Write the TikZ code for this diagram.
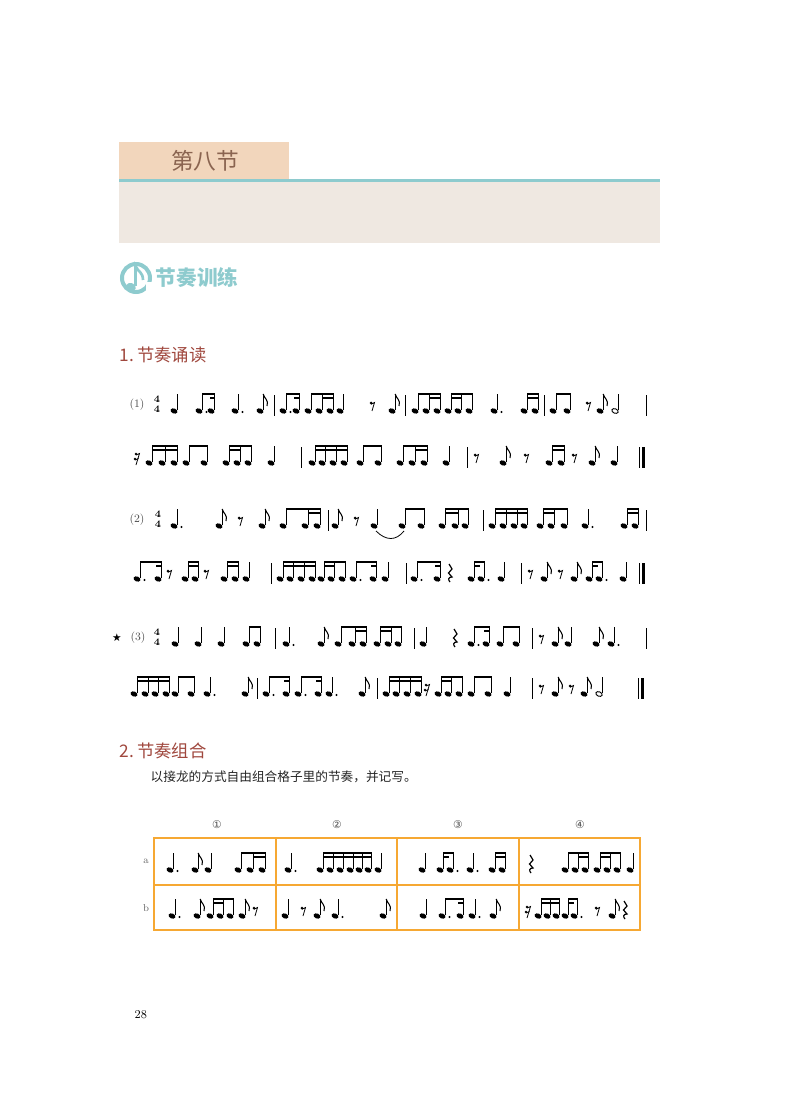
\documentclass[tikz,border=0pt]{standalone}
\usepackage{fontspec}
\newfontfamily\cjk{Noto Sans CJK SC}
\newfontfamily\djv{DejaVu Sans}
\definecolor{peach}{HTML}{F2D6BC}
\definecolor{teal1}{HTML}{8ECBCE}
\definecolor{graybg}{HTML}{EFE8E1}
\definecolor{brownt}{HTML}{8A6450}
\definecolor{headred}{HTML}{A0483E}
\definecolor{orng}{HTML}{F6A833}
\tikzset{stem/.style={line width=0.6pt}}
\def\Y{0}
\newcommand\Rzq[2]{\fill[rotate around={-22:(#1,\Y)}] (#1,\Y) ellipse (3.6 and 2.5); \draw[stem] (#1+3.2,\Y-1)--(#1+3.2,\Y-17);}
\newcommand\Rzf[2]{\Rzq{#1}{#2}\draw[line width=0.8pt] (#1+3.2,\Y-17) .. controls (#1+4.5,\Y-12) and (#1+9,\Y-11) .. (#1+7,\Y-5);}
\newcommand\Rzh[2]{\draw[line width=0.7pt,rotate around={-22:(#1,\Y)}] (#1,\Y) ellipse (3.3 and 2.2); \draw[stem] (#1+3.2,\Y-1)--(#1+3.2,\Y-17);}
\newcommand\Rzd[2]{\fill (#1+7.5,\Y+1) circle (1.1);}
\newcommand\RzB[2]{\fill (#1+2.8,\Y-18) rectangle (#2+3.6,\Y-15.6);}
\newcommand\RzC[2]{\fill (#1+2.8,\Y-14.2) rectangle (#2+3.6,\Y-11.8);}
\newcommand\Rzr[2]{\fill (#1-1,\Y-8) circle (1.5); \draw[stem] (#1-1,\Y-6.8) -- (#1+2.5,\Y-8.5) -- (#1,\Y);}
\newcommand\Rzs[2]{\fill (#1-1,\Y-9) circle (1.4); \fill (#1-2,\Y-4) circle (1.4); \draw[stem] (#1-1,\Y-8) -- (#1+2.5,\Y-9.5) -- (#1-1,\Y+2); \draw[stem] (#1-2,\Y-3) -- (#1+1.5,\Y-4.5);}
\newcommand\Rzz[2]{\draw[line width=0.9pt] (#1,\Y-15)--(#1+3,\Y-10)--(#1-0.5,\Y-6)--(#1+3,\Y-2) .. controls (#1-1,\Y-2) and (#1-1,\Y+1) .. (#1+1,\Y+3);}
\newcommand\Rzl[2]{\draw[stem] (#1,\Y-16)--(#1,\Y+5);}
\newcommand\RzL[2]{\draw[stem] (#1-3,\Y-16)--(#1-3,\Y+5); \fill (#1,\Y-16) rectangle (#1+2.5,\Y+5);}
\newcommand\Rzt[2]{\node[font=\bfseries\fontsize{7.5}{7.5}\selectfont,inner sep=0] at (#1,\Y-12) {4}; \node[font=\bfseries\fontsize{7.5}{7.5}\selectfont,inner sep=0] at (#1,\Y-2) {4};}
\newcommand\Music[1]{\foreach \t/\a/\b in {#1} {\csname Rz\t\endcsname{\a}{\b}}}
\begin{document}
\begin{tikzpicture}[x=0.75pt,y=-0.75pt]
\useasboundingbox (0,0) rectangle (800,1094);
\fill[white] (0,0) rectangle (800,1094);
% header
\fill[graybg] (119,182) rectangle (660,243);
\fill[peach] (119,142) rectangle (289,180);
\node[text=brownt,font=\cjk\fontsize{17}{17}\selectfont] (title) at (205,161) {第八节};
\fill[teal1] (119,179) rectangle (660,182);
\draw[teal1,line width=3pt] (136,278) circle (14);
\fill[white] (146,282) rectangle (154,296);
\fill[teal1,rotate around={-22:(131,287)}] (131,287) ellipse (5 and 4);
\draw[teal1,line width=2pt] (135.5,286)--(135.5,266) .. controls (138,272) and (143,272) .. (143,280);
\node[anchor=west,text=teal1,font=\cjk\bfseries\fontsize{15.5}{15.5}\selectfont] (sec) at (151,278) {节奏训练};
\node[anchor=west,text=headred,font=\cjk\fontsize{13}{13}\selectfont] (h1) at (115,355) {1.\,节奏诵读};
\node[anchor=west,text=headred,font=\cjk\fontsize{13}{13}\selectfont] (h2) at (115,751) {2.\,节奏组合};
\node[anchor=west,font=\cjk\fontsize{9.5}{10}\selectfont,text=black!85] (inst) at (146,777) {以接龙的方式自由组合格子里的节奏，并记写。};
\node[anchor=west,font=\fontsize{9}{9}\selectfont] (pg) at (130,1015) {28};
% row 1
\def\Y{411}
\node[font=\fontsize{8.5}{9}\selectfont,text=black!70] (l1) at (137,\Y-6) {(1)};
\Music{t/157/0, q/174/0, q/199/0, d/199/0, q/211/0, B/199/211, C/207/211, q/235/0, d/235/0, f/260/0, l/274/0,
 q/283/0, d/283/0, q/296/0, B/283/296, C/291/296, q/308/0, q/319/0, q/330/0, B/308/330, C/319/330, q/340/0, r/372/0, f/392/0, l/405/0,
 q/415/0, q/426/0, q/437/0, B/415/437, C/426/437, q/448/0, q/458/0, q/469/0, B/448/469, C/448/458, q/494/0, d/494/0,
 q/524/0, q/535/0, B/524/535, C/524/535, l/544/0, q/553/0, q/567/0, B/553/567, r/588/0, f/600/0, h/615/0, l/646/0}
\def\Y{463}
\Music{s/137/0, q/149/0, q/162/0, q/174/0, B/149/174, C/149/174, q/186/0, q/204/0, B/186/204,
 q/226/0, q/237/0, q/248/0, B/226/248, C/226/237, q/271/0, l/301/0,
 q/312/0, q/322/0, q/333/0, q/344/0, B/312/344, C/312/344, q/360/0, q/378/0, B/360/378,
 q/400/0, q/412/0, q/424/0, B/400/424, C/412/424, q/446/0, l/467/0, r/476/0, f/503/0, r/526/0,
 q/549/0, q/561/0, B/549/561, C/549/561, r/574/0, f/592/0, q/614/0, L/642/0}
% row 2
\def\Y{526}
\node[font=\fontsize{8.5}{9}\selectfont,text=black!70] (l2) at (137,\Y-6) {(2)};
\Music{t/158/0, q/174/0, d/174/0, f/219/0, r/240/0, f/262/0, q/283/0, q/305/0, q/317/0, B/283/317, C/305/317, l/328/0,
 f/335/0, r/356/0, q/374/0, q/402/0, q/421/0, B/402/421, q/442/0, q/455/0, q/465/0, B/442/465, C/442/455, l/483/0,
 q/492/0, q/503/0, q/514/0, q/524/0, B/492/524, C/492/524, q/540/0, q/551/0, q/564/0, B/540/564, C/540/551,
 q/585/0, d/585/0, q/624/0, q/635/0, B/624/635, C/624/635, l/646/0}
\draw[stem] (376,\Y+5) .. controls (386,\Y+15) and (396,\Y+15) .. (404,\Y+5);
\def\Y{579}
\Music{q/137/0, d/137/0, q/158/0, B/137/158, C/153/158, r/169/0, q/185/0, q/195/0, B/185/195, C/185/195, r/206/0,
 q/224/0, q/235/0, B/224/235, C/224/235, q/246/0, l/271/0,
 q/280/0, q/290/0, q/301/0, q/312/0, B/280/312, C/280/312, q/321/0, q/331/0, q/342/0, B/321/342, C/321/331,
 q/353/0, d/353/0, q/373/0, B/353/373, C/368/373, q/385/0, l/406/0,
 q/414/0, d/414/0, q/437/0, B/414/437, C/432/437, z/449/0, q/471/0, q/481/0, d/481/0, B/471/481, C/471/476, q/501/0, l/521/0,
 r/530/0, f/544/0, r/560/0, f/574/0, q/589/0, q/599/0, d/599/0, B/589/599, C/589/594, q/623/0, L/642/0}
% row 3
\def\Y{644}
\node[font=\djv\fontsize{8}{8}\selectfont] (star) at (117,\Y-6) {★};
\node[font=\fontsize{8.5}{9}\selectfont,text=black!70] (l3) at (138,\Y-6) {(3)};
\Music{t/157/0, q/175/0, q/198/0, q/221/0, q/246/0, q/257/0, B/246/257, l/275/0, q/286/0, d/286/0, f/321/0,
 q/338/0, q/352/0, q/363/0, B/338/363, C/352/363, q/377/0, q/388/0, q/398/0, B/377/398, C/377/388, l/414/0,
 q/423/0, z/454/0, q/471/0, d/471/0, q/486/0, B/471/486, C/481/486, q/500/0, q/516/0, B/500/516, l/532/0,
 r/541/0, f/555/0, q/568/0, f/596/0, q/611/0, d/611/0, l/646/0}
\def\Y{694}
\Music{q/134/0, q/145/0, q/155/0, q/166/0, B/134/166, C/134/166, q/175/0, q/191/0, B/175/191, q/207/0, d/207/0, f/245/0, l/257/0,
 q/266/0, d/266/0, q/286/0, B/266/286, C/281/286, q/298/0, d/298/0, q/318/0, B/298/318, C/313/318, q/329/0, d/329/0, f/362/0, l/377/0,
 q/386/0, q/396/0, q/407/0, q/418/0, B/386/418, C/386/418, s/427/0, q/438/0, q/448/0, q/459/0, B/438/459, C/438/448,
 q/471/0, q/488/0, B/471/488, q/507/0, l/532/0, r/541/0, f/555/0, r/571/0, f/584/0, h/599/0, L/641/0}
% table
\node[font=\djv\fontsize{8}{8}\selectfont,text=black!70] (c1) at (217,825) {①};
\node[font=\djv\fontsize{8}{8}\selectfont,text=black!70] (c2) at (337,825) {②};
\node[font=\djv\fontsize{8}{8}\selectfont,text=black!70] (c3) at (458,825) {③};
\node[font=\djv\fontsize{8}{8}\selectfont,text=black!70] (c4) at (580,825) {④};
\node[font=\fontsize{7.5}{7.5}\selectfont,text=black!60] (ra) at (146,861) {a};
\node[font=\fontsize{7.5}{7.5}\selectfont,text=black!60] (rb) at (146,908) {b};
\draw[orng,line width=2pt] (154,838) rectangle (640,930);
\draw[orng,line width=1.2pt] (154,885)--(640,885) (276,838)--(276,930) (397,838)--(397,930) (519,838)--(519,930);
\def\Y{870}
\Music{q/170/0, d/170/0, f/195/0, q/208/0, q/238/0, q/250/0, q/262/0, B/238/262, C/250/262,
 q/288/0, d/288/0, q/320/0, q/330/0, q/340/0, q/350/0, q/359/0, q/368/0, B/320/368, C/320/368, q/378/0,
 q/422/0, q/440/0, q/450/0, d/450/0, B/440/450, C/440/445, q/470/0, d/470/0, q/492/0, q/502/0, B/492/502, C/492/502,
 z/530/0, q/565/0, q/575/0, q/585/0, B/565/585, C/575/585, q/597/0, q/607/0, q/617/0, B/597/617, C/597/607, q/630/0}
\def\Y{916}
\Music{q/172/0, d/172/0, f/197/0, q/210/0, q/220/0, q/230/0, B/210/230, C/210/220, f/242/0, r/255/0,
 q/285/0, r/303/0, f/317/0, q/335/0, d/335/0, f/383/0,
 q/423/0, q/442/0, d/442/0, q/460/0, B/442/460, C/455/460, q/472/0, d/472/0, f/493/0,
 s/528/0, q/538/0, q/547/0, q/556/0, B/538/556, C/538/556, q/565/0, q/574/0, d/574/0, B/565/574, C/565/570, r/597/0, f/612/0, z/624/0}
\end{tikzpicture}
\end{document}
